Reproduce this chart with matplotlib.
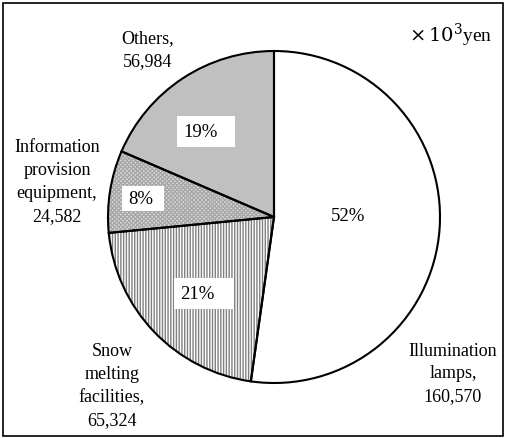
import matplotlib.pyplot as plt
from matplotlib.patches import Rectangle

plt.rcParams['font.family'] = ['Liberation Serif', 'DejaVu Serif']
plt.rcParams['hatch.linewidth'] = 1.0

# 項目別費用（千円）
categories = ["Illumination\nlamps,\n160,570", "Snow\nmelting\nfacilities,\n65,324",
              "Information\nprovision\nequipment,\n24,582", "Others,\n56,984"]
values = [160570, 65324, 24582, 56984]
face_colors = ["white", "white", "#dedede", "#c0c0c0"]
hatches = ["", "||||||", "xxxxxxxx", ""]
hatch_colors = ["#808080", "#808080", "#a8a8a8", "#808080"]

W, H = 506, 438
fig = plt.figure(figsize=(W / 100, H / 100), dpi=100)


def fx(px):
    return px / W


def fy(py):
    return 1 - py / H


fig.add_artist(Rectangle((fx(3), fy(436)), fx(500), 433 / H, transform=fig.transFigure,
                         fill=False, edgecolor="black", linewidth=1.2))

cx, cy, r = 274, 217, 166
ax = fig.add_axes([fx(cx - r), fy(cy + r), 2 * r / W, 2 * r / H])

# relleno y tramas (el color de la trama sigue al borde)
wedges, _ = ax.pie(values, startangle=90, counterclock=False, colors=face_colors,
                   wedgeprops=dict(linewidth=0))
for w, h, hc in zip(wedges, hatches, hatch_colors):
    w.set_edgecolor(hc)
    w.set_linewidth(0)
    w.set_hatch(h)

# bordes negros encima
ax.pie(values, startangle=90, counterclock=False,
       wedgeprops=dict(fill=False, edgecolor="black", linewidth=1.5))
ax.set_aspect("equal")
ax.set_xlim(-1, 1)
ax.set_ylim(-1, 1)

# porcentajes en cajas blancas: (izq, arriba, ancho, alto) en píxeles
total = sum(values)
boxes = [(325, 200, 50, 31), (174, 278, 59, 31), (122, 186, 42, 25), (177, 116, 58, 31)]
for v, (bx, by, bw, bh) in zip(values, boxes):
    fig.add_artist(Rectangle((fx(bx), fy(by + bh)), bw / W, bh / H, transform=fig.transFigure,
                             facecolor="white", edgecolor="none"))
    fig.text(fx(bx + 6), fy(by + bh / 2 + 1), f"{round(v / total * 100)}%", ha="left",
             va="center", fontsize=13.5)

# etiquetas de categoría
label_pos = [(453, 374), (112, 386), (57, 182), (148, 50)]
for lab, (px, py) in zip(categories, label_pos):
    fig.text(fx(px), fy(py), lab, ha="center", va="center", fontsize=13, linespacing=1.45)

fig.text(fx(451), fy(35), r"$\times\,10^3$yen", ha="center", va="center", fontsize=14,
         math_fontfamily="dejavuserif")

fig.savefig("out.png", dpi=100)
